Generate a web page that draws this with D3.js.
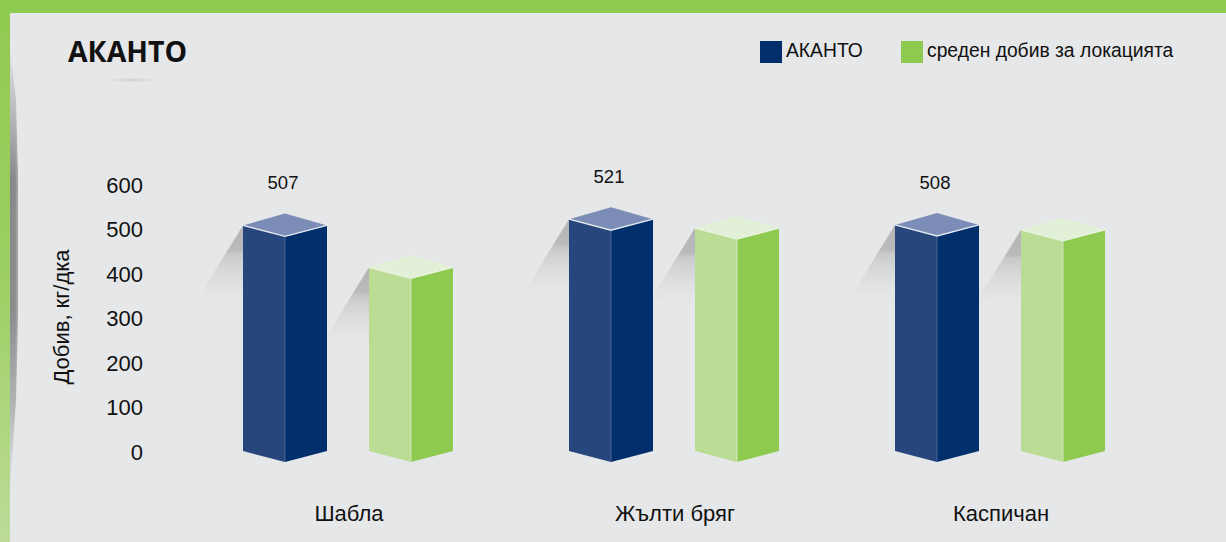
<!DOCTYPE html>
<html><head><meta charset="utf-8">
<script src="https://cdn.jsdelivr.net/npm/d3@7/dist/d3.min.js"></script>
<style>html,body{margin:0;padding:0;background:#e6e7e9;overflow:hidden}svg{display:block}text{font-family:"Liberation Sans",Arial,sans-serif;fill:#111}</style>
</head><body><div id="c"></div>
<script>
const categories = ["Шабла", "Жълти бряг", "Каспичан"];
const seriesNames = ["АКАНТО", "среден добив за локацията"];
const akanto = [507, 521, 508];
const average = [413, 501, 497];
const ticks = [0, 100, 200, 300, 400, 500, 600];
const W = 1226, H = 542;
const svg = d3.select("#c").append("svg").attr("width", W).attr("height", H);
const defs = svg.append("defs");

const x0 = d3.scaleBand().domain(categories).range([185, 1163]);
const x1 = d3.scaleBand().domain(seriesNames).range([58, 268]).paddingInner(1/3);
const y = d3.scaleLinear().domain([0, 600]).range([451, 184]);
const depth = 11;
const palette = [
  {left:"#27477c", right:"#002f6c", top:"#7b8cb6", edge:"#e4e8f0", seam:"#4a6594"},
  {left:"#bbdc95", right:"#8fca50", top:"#e3f0d8", edge:"#e8f2de", seam:"#d0e6b8"}
];

// backdrop
const sideGrad = defs.append("linearGradient").attr("id","side").attr("x1",0).attr("y1",0).attr("x2",0).attr("y2",1);
[[0,"#8fca50"],[0.5,"#9ccf62"],[1,"#bcdc98"]].forEach(s=>sideGrad.append("stop").attr("offset",s[0]).attr("stop-color",s[1]));
svg.append("rect").attr("width",W).attr("height",H).attr("fill","#e6e7e9");
svg.append("rect").attr("width",10).attr("height",H).attr("fill","url(#side)");
svg.append("rect").attr("width",W).attr("height",13).attr("fill","#8fca50");

const edgeGrad = defs.append("linearGradient").attr("id","edgeShade").attr("x1",0).attr("y1",0).attr("x2",0).attr("y2",1);
[[0,"#e6e7e9"],[0.15,"#b8b9bb"],[0.3,"#88898b"],[0.6,"#8b8c8e"],[0.8,"#b0b1b3"],[1,"#e6e7e9"]].forEach(s=>edgeGrad.append("stop").attr("offset",s[0]).attr("stop-color",s[1]));
svg.append("path").attr("d","M10,45 L16,100 L18,170 L18,320 L16,400 L10,490 Z").attr("fill","url(#edgeShade)");
const edgeFade = defs.append("linearGradient").attr("id","edgeFade").attr("x1",0).attr("y1",0).attr("x2",1).attr("y2",0);
edgeFade.append("stop").attr("offset",0).attr("stop-color","#e6e7e9").attr("stop-opacity",0);
edgeFade.append("stop").attr("offset",1).attr("stop-color","#e6e7e9").attr("stop-opacity",0.5);
svg.append("rect").attr("x",15).attr("y",45).attr("width",4).attr("height",445).attr("fill","url(#edgeFade)");

// title
svg.append("text").attr("x",68).attr("y",62).attr("font-size",28.4).attr("font-weight",700)
  .style("font-family","'Open Sans',sans-serif").text(seriesNames[0]);
const uGrad = defs.append("radialGradient").attr("id","underline");
uGrad.append("stop").attr("offset",0).attr("stop-color","#c9cacc");
uGrad.append("stop").attr("offset",1).attr("stop-color","#e6e7e9").attr("stop-opacity",0);
svg.append("ellipse").attr("cx",132).attr("cy",80).attr("rx",36).attr("ry",3).attr("fill","url(#underline)");

// legend
const legendX = [760, 901];
seriesNames.forEach((n,i)=>{
  svg.append("rect").attr("x",legendX[i]).attr("y",41).attr("width",22).attr("height",22).attr("fill",palette[i].right);
  svg.append("text").attr("x",legendX[i]+26).attr("y",57).attr("font-size",19.3).text(n);
});

// axis
const axis = d3.axisLeft(y).tickValues(ticks).tickSize(0).tickPadding(0);
const gAxis = svg.append("g").attr("transform","translate(143,1)").call(axis);
gAxis.select(".domain").remove();
gAxis.selectAll("text").attr("font-size",22).style("font-family","'Liberation Sans',sans-serif").attr("fill","#111");
svg.append("text").attr("transform","translate(69,317) rotate(-90)").attr("text-anchor","middle").attr("font-size",22).text("Добив, кг/дка");

// category labels
categories.forEach(c=>{
  svg.append("text").attr("x",x0(c)+x0.bandwidth()/2+1).attr("y",521).attr("text-anchor","middle").attr("font-size",22).text(c);
});

// shadow gradient
const sg = defs.append("linearGradient").attr("id","castShadow").attr("x1",0).attr("y1",0).attr("x2",0).attr("y2",1);
[[0,"#b0b0b2",0.95],[0.3,"#b9b9bb",0.95],[0.34,"#c6c7c9",0.95],[1,"#e6e7e9",0]].forEach(s=>sg.append("stop").attr("offset",s[0]).attr("stop-color",s[1]).attr("stop-opacity",s[2]));

// bars
const rows = categories.map((c,i)=>[{c,s:0,v:akanto[i]},{c,s:1,v:average[i]}]).flat();
const groups = svg.selectAll("g.bar").data(rows).join("g").attr("class","bar");
groups.each(function(d){
  const g = d3.select(this), p = palette[d.s];
  const l = x0(d.c)+x1(seriesNames[d.s]), w = x1.bandwidth(), m = l+w/2, r = l+w;
  const t = y(d.v), b = y(0);
  g.append("path").attr("d",`M${l},${t} L${l-42},${t+68} L${l-20},${t+84} L${l},${t+84} Z`).attr("fill","url(#castShadow)");
  g.append("path").attr("d",`M${l},${t} L${m},${t+depth} L${m},${b+depth} L${l},${b} Z`).attr("fill",p.left);
  g.append("path").attr("d",`M${m},${t+depth} L${r},${t} L${r},${b} L${m},${b+depth} Z`).attr("fill",p.right);
  g.append("path").attr("d",`M${l},${t} L${m},${t-12} L${r},${t} L${m},${t+depth} Z`).attr("fill",p.top);
  g.append("line").attr("x1",m).attr("x2",m).attr("y1",t+depth).attr("y2",b+depth).attr("stroke",p.seam).attr("stroke-width",1);
  g.append("path").attr("d",`M${l},${t} L${m},${t+depth} L${r},${t}`).attr("fill","none").attr("stroke",p.edge).attr("stroke-width",1.4);
  if(d.s===0) g.append("text").attr("x",m-2).attr("y",t-36).attr("text-anchor","middle").attr("font-size",18.5).text(d.v);
});
</script></body></html>
